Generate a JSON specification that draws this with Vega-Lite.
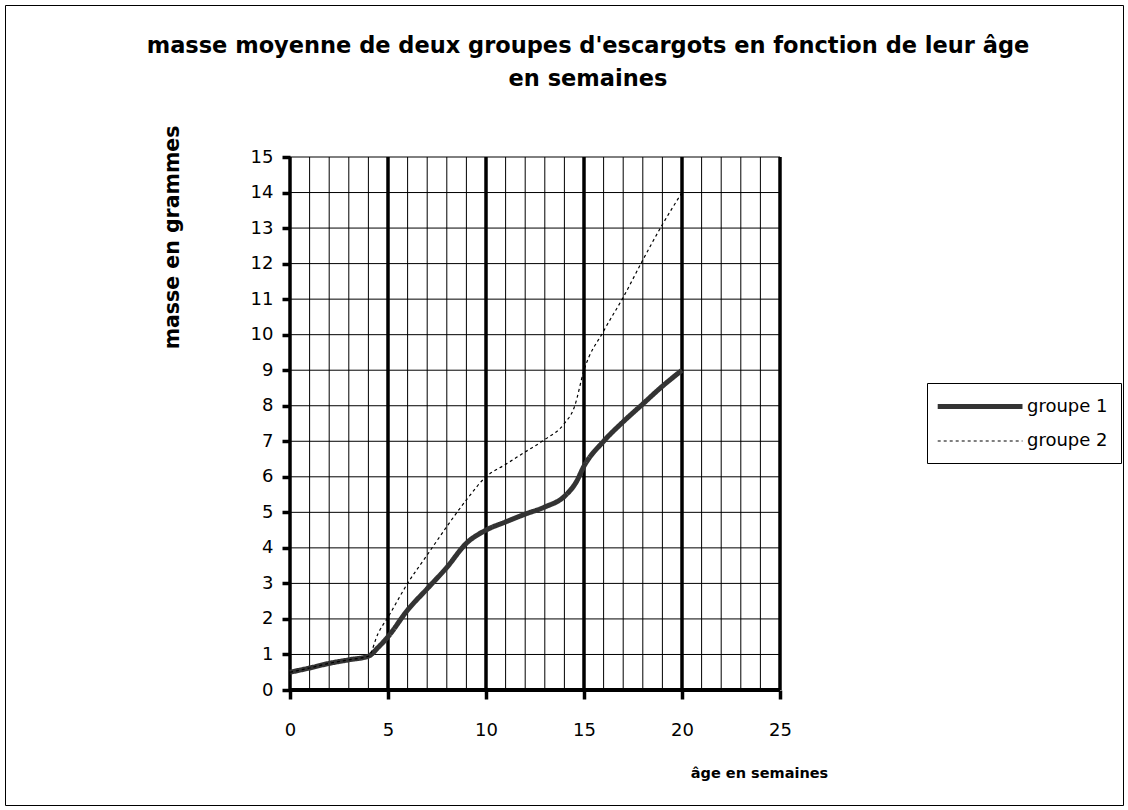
{
  "$schema": "https://vega.github.io/schema/vega-lite/v6.json",
  "width": 1128,
  "height": 810,
  "autosize": {"type": "fit", "contains": "padding"},
  "padding": 5,
  "background": "white",
  "title": {
    "text": ["masse moyenne de deux groupes d'escargots en fonction de leur âge", "en semaines"],
    "font": "DejaVu Sans",
    "fontSize": 22.5,
    "fontWeight": "bold",
    "color": "black",
    "anchor": "middle",
    "frame": "group",
    "offset": -85,
    "dx": 24,
    "lineHeight": 33
  },
  "config": {
    "view": {"stroke": "black", "strokeWidth": 1},
    "legend": {
      "orient": "none",
      "legendX": 922,
      "legendY": 378,
      "padding": 13,
      "strokeColor": "black",
      "fillColor": "white",
      "symbolType": "M-1.6,0H9",
      "symbolSize": 256,
      "labelFont": "DejaVu Sans",
      "labelFontSize": 18,
      "labelColor": "black",
      "labelOffset": 66,
      "rowPadding": 15
    }
  },
  "datasets": {
    "masses": [
      {"age": 0, "masse": 0.5, "groupe": "groupe 1"},
      {"age": 1, "masse": 0.62, "groupe": "groupe 1"},
      {"age": 2, "masse": 0.75, "groupe": "groupe 1"},
      {"age": 3, "masse": 0.85, "groupe": "groupe 1"},
      {"age": 4, "masse": 0.95, "groupe": "groupe 1"},
      {"age": 4.5, "masse": 1.2, "groupe": "groupe 1"},
      {"age": 5, "masse": 1.5, "groupe": "groupe 1"},
      {"age": 6, "masse": 2.25, "groupe": "groupe 1"},
      {"age": 7, "masse": 2.85, "groupe": "groupe 1"},
      {"age": 8, "masse": 3.45, "groupe": "groupe 1"},
      {"age": 9, "masse": 4.13, "groupe": "groupe 1"},
      {"age": 10, "masse": 4.5, "groupe": "groupe 1"},
      {"age": 11, "masse": 4.73, "groupe": "groupe 1"},
      {"age": 12, "masse": 4.95, "groupe": "groupe 1"},
      {"age": 13, "masse": 5.15, "groupe": "groupe 1"},
      {"age": 14, "masse": 5.45, "groupe": "groupe 1"},
      {"age": 14.6, "masse": 5.85, "groupe": "groupe 1"},
      {"age": 15, "masse": 6.3, "groupe": "groupe 1"},
      {"age": 16, "masse": 7.0, "groupe": "groupe 1"},
      {"age": 17, "masse": 7.55, "groupe": "groupe 1"},
      {"age": 18, "masse": 8.05, "groupe": "groupe 1"},
      {"age": 19, "masse": 8.55, "groupe": "groupe 1"},
      {"age": 20, "masse": 9.0, "groupe": "groupe 1"},
      {"age": 0, "masse": 0.5, "groupe": "groupe 2"},
      {"age": 1, "masse": 0.62, "groupe": "groupe 2"},
      {"age": 2, "masse": 0.75, "groupe": "groupe 2"},
      {"age": 3, "masse": 0.85, "groupe": "groupe 2"},
      {"age": 4, "masse": 0.95, "groupe": "groupe 2"},
      {"age": 4.5, "masse": 1.6, "groupe": "groupe 2"},
      {"age": 5, "masse": 2.05, "groupe": "groupe 2"},
      {"age": 6, "masse": 3.0, "groupe": "groupe 2"},
      {"age": 7, "masse": 3.8, "groupe": "groupe 2"},
      {"age": 8, "masse": 4.6, "groupe": "groupe 2"},
      {"age": 9, "masse": 5.35, "groupe": "groupe 2"},
      {"age": 10, "masse": 6.0, "groupe": "groupe 2"},
      {"age": 11, "masse": 6.35, "groupe": "groupe 2"},
      {"age": 12, "masse": 6.7, "groupe": "groupe 2"},
      {"age": 13, "masse": 7.05, "groupe": "groupe 2"},
      {"age": 14, "masse": 7.5, "groupe": "groupe 2"},
      {"age": 14.5, "masse": 7.95, "groupe": "groupe 2"},
      {"age": 15, "masse": 9.0, "groupe": "groupe 2"},
      {"age": 16, "masse": 10.1, "groupe": "groupe 2"},
      {"age": 17, "masse": 11.05, "groupe": "groupe 2"},
      {"age": 18, "masse": 12.1, "groupe": "groupe 2"},
      {"age": 19, "masse": 13.1, "groupe": "groupe 2"},
      {"age": 20, "masse": 14.0, "groupe": "groupe 2"}
    ],
    "vx": [
      {"v": 0}, {"v": 1}, {"v": 2}, {"v": 3}, {"v": 4}, {"v": 5}, {"v": 6}, {"v": 7}, {"v": 8}, {"v": 9},
      {"v": 10}, {"v": 11}, {"v": 12}, {"v": 13}, {"v": 14}, {"v": 15}, {"v": 16}, {"v": 17}, {"v": 18},
      {"v": 19}, {"v": 20}, {"v": 21}, {"v": 22}, {"v": 23}, {"v": 24}, {"v": 25}
    ],
    "hy": [
      {"h": 0}, {"h": 1}, {"h": 2}, {"h": 3}, {"h": 4}, {"h": 5}, {"h": 6}, {"h": 7}, {"h": 8},
      {"h": 9}, {"h": 10}, {"h": 11}, {"h": 12}, {"h": 13}, {"h": 14}, {"h": 15}
    ]
  },
  "layer": [
    {
      "data": {"name": "vx"},
      "transform": [{"filter": "datum.v % 5 != 0"}],
      "mark": {"type": "rule", "color": "black", "strokeWidth": 1},
      "encoding": {
        "x": {"field": "v", "type": "quantitative", "scale": {"domain": [-14.541, 42.5], "nice": false, "zero": false}},
        "y": {"datum": 0, "type": "quantitative", "scale": {"domain": [-3.2364, 19.278], "nice": false, "zero": false}},
        "y2": {"datum": 15}
      }
    },
    {
      "data": {"name": "hy"},
      "transform": [{"filter": "datum.h > 0"}],
      "mark": {"type": "rule", "color": "black", "strokeWidth": 1},
      "encoding": {
        "y": {"field": "h", "type": "quantitative", "scale": {"domain": [-3.2364, 19.278], "nice": false, "zero": false}},
        "x": {"datum": 0, "type": "quantitative", "scale": {"domain": [-14.541, 42.5], "nice": false, "zero": false}},
        "x2": {"datum": 25}
      }
    },
    {
      "data": {"name": "vx"},
      "transform": [{"filter": "datum.v % 5 == 0"}],
      "mark": {"type": "rule", "color": "black", "strokeWidth": 3.5},
      "encoding": {
        "x": {"field": "v", "type": "quantitative", "scale": {"domain": [-14.541, 42.5], "nice": false, "zero": false}},
        "y": {"datum": 0, "type": "quantitative", "scale": {"domain": [-3.2364, 19.278], "nice": false, "zero": false}},
        "y2": {"datum": 15}
      }
    },
    {
      "data": {"name": "hy"},
      "transform": [{"filter": "datum.h == 0"}],
      "mark": {"type": "rule", "color": "black", "strokeWidth": 4},
      "encoding": {
        "y": {"field": "h", "type": "quantitative", "scale": {"domain": [-3.2364, 19.278], "nice": false, "zero": false}},
        "x": {"datum": 0, "type": "quantitative", "scale": {"domain": [-14.541, 42.5], "nice": false, "zero": false}},
        "x2": {"datum": 25}
      }
    },
    {
      "data": {"name": "masses"},
      "mark": {"type": "line", "interpolate": "monotone", "strokeJoin": "round"},
      "encoding": {
        "x": {
          "field": "age",
          "type": "quantitative",
          "scale": {"domain": [-14.541, 42.5], "nice": false, "zero": false},
          "axis": {
            "values": [0, 5, 10, 15, 20, 25],
            "offset": -115,
            "domain": false,
            "grid": false,
            "ticks": true,
            "tickSize": 9,
            "tickWidth": 3.5,
            "tickColor": "black",
            "labelFont": "DejaVu Sans",
            "labelFontSize": 18,
            "labelColor": "black",
            "labelPadding": 22,
            "labelFlush": false,
            "title": "âge en semaines",
            "titleFont": "DejaVu Sans",
            "titleFontSize": 14.5,
            "titleFontWeight": "bold",
            "titleColor": "black",
            "titleX": 754,
            "titleY": 83,
            "titleAlign": "center",
            "titleBaseline": "middle",
            "titleAngle": 0
          }
        },
        "y": {
          "field": "masse",
          "type": "quantitative",
          "scale": {"domain": [-3.2364, 19.278], "nice": false, "zero": false},
          "axis": {
            "values": [0, 1, 2, 3, 4, 5, 6, 7, 8, 9, 10, 11, 12, 13, 14, 15],
            "offset": -285,
            "domain": false,
            "grid": false,
            "ticks": true,
            "tickSize": 8,
            "tickWidth": 3.5,
            "tickColor": "black",
            "labelFont": "DejaVu Sans",
            "labelFontSize": 18,
            "labelColor": "black",
            "labelPadding": 9,
            "labelFlush": false,
            "labelOverlap": false,
            "title": "masse en grammes",
            "titleFont": "DejaVu Sans",
            "titleFontSize": 20.5,
            "titleFontWeight": "bold",
            "titleColor": "black",
            "titleX": -118,
            "titleY": 232,
            "titleAlign": "center",
            "titleBaseline": "middle",
            "titleAngle": 270
          }
        },
        "color": {"field": "groupe", "type": "ordinal", "scale": {"range": ["#333333", "#000000"]}, "legend": {"title": null}},
        "strokeDash": {"field": "groupe", "type": "ordinal", "scale": {"range": [[1, 0], [3, 3]]}, "legend": {"title": null}},
        "strokeWidth": {"field": "groupe", "type": "ordinal", "scale": {"range": [5, 1.2]}, "legend": {"title": null}}
      }
    }
  ]
}
